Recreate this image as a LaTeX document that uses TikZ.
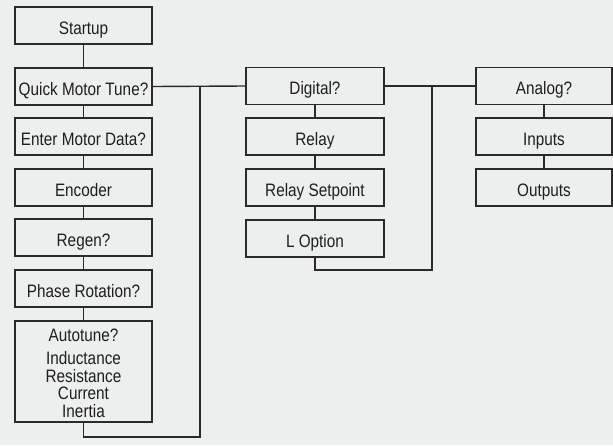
\documentclass[tikz,border=0pt]{standalone}
\usepackage{fontspec}
\setmainfont[FakeStretch=0.85]{Liberation Sans}
\definecolor{bg}{HTML}{EDEEEE}
\definecolor{ln}{HTML}{2A2A2A}
\definecolor{tx}{HTML}{1E1E1E}
\begin{document}
\begin{tikzpicture}[x=1pt,y=-1pt,
  box/.style={draw=ln,line width=1.4pt,minimum width=137pt,minimum height=37pt,inner sep=0pt,
    font=\fontsize{18}{20}\selectfont,text=tx,align=center,text height=17.5pt,text depth=0pt},
  wire/.style={draw=ln,line width=1.4pt}]
\fill[bg] (0,0) rectangle (613,445);
\useasboundingbox (0,0) rectangle (613,445);
% left column
\node[box] (start) at (83.5,25.5) {Startup};
\node[box] (qmt) at (83.5,86.5) {Quick Motor Tune?};
\node[box] (emd) at (83.5,136.5) {Enter Motor Data?};
\node[box] (enc) at (83.5,187.5) {Encoder};
\node[box] (regen) at (83.5,237.5) {Regen?};
\node[box] (phase) at (83.5,288.5) {Phase Rotation?};
\node[draw=ln,line width=1.4pt,minimum width=137pt,minimum height=101pt,inner sep=0pt] (auto) at (83.5,371.5) {};
\node[font=\fontsize{18}{17.5}\selectfont,text=tx,align=center,inner sep=0pt] (autotxt) at (83.5,373.5) {Autotune?\\[5.5pt]Inductance\\Resistance\\Current\\Inertia};
% middle column
\node[box,minimum width=138pt] (dig) at (315,86) {Digital?};
\node[box,minimum width=138pt] (relay) at (315,136.5) {Relay};
\node[box,minimum width=138pt] (rsp) at (315,187.5) {Relay Setpoint};
\node[box,minimum width=138pt] (lopt) at (315,238.5) {L Option};
% right column
\node[box,minimum width=136pt] (ana) at (544,86) {Analog?};
\node[box,minimum width=136pt] (inp) at (544,136.5) {Inputs};
\node[box,minimum width=136pt] (outp) at (544,187.5) {Outputs};
% connectors
\draw[wire] (start) -- (qmt);
\draw[wire] (qmt) -- (emd);
\draw[wire] (emd) -- (enc);
\draw[wire] (enc) -- (regen);
\draw[wire] (regen) -- (phase);
\draw[wire] (phase) -- (auto);
\draw[wire] (dig) -- (relay);
\draw[wire] (relay) -- (rsp);
\draw[wire] (rsp) -- (lopt);
\draw[wire] (ana) -- (inp);
\draw[wire] (inp) -- (outp);
\coordinate (j1) at (200,87);
\coordinate (b1) at (83.5,437);
\coordinate (j2) at (432,86);
\coordinate (b2) at (315,270);
\draw[wire] (qmt.east) -- (dig.west);
\draw[wire] (auto.south) -- (b1) -| (j1);
\draw[wire] (dig.east) -- (ana.west);
\draw[wire] (lopt.south) -- (b2) -| (j2);
\end{tikzpicture}
\end{document}
